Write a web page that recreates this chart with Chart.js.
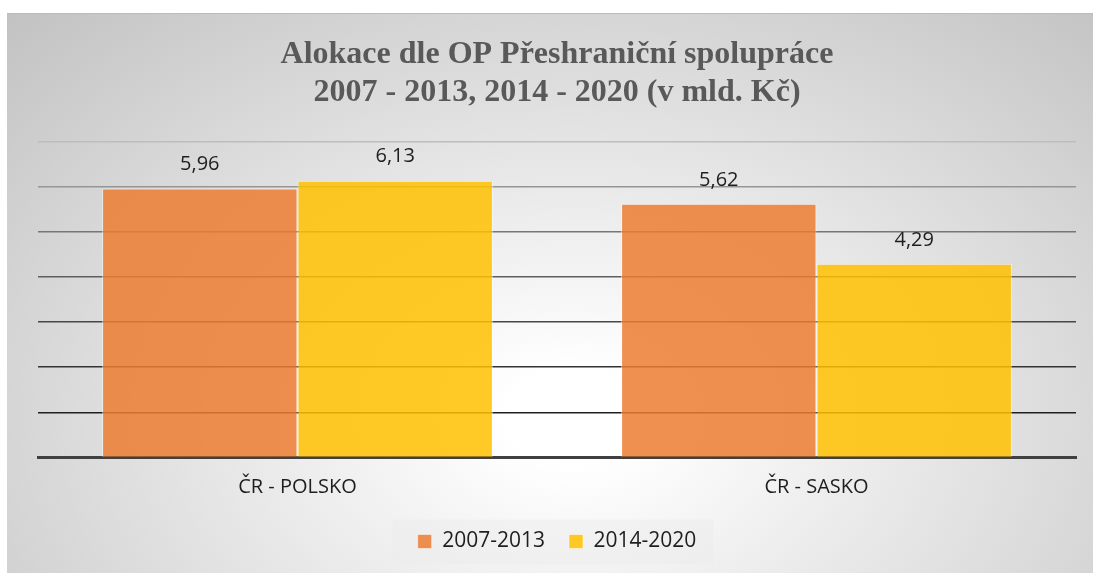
<!DOCTYPE html>
<html>
<head>
<meta charset="utf-8">
<script src="https://cdn.jsdelivr.net/npm/chart.js@4.4.0/dist/chart.umd.min.js"></script>
<style>
  html, body { margin: 0; padding: 0; background: #fff; }
  #frame {
    position: absolute; left: 7px; top: 13px; width: 1086px; height: 560px;
    background: radial-gradient(ellipse farthest-corner at 52% 72%, #ffffff 0%, #ffffff 8%, #c2c2c2 100%);
    border-top: 1px solid #bcbcbc;
  }
  canvas { display: block; }
</style>
</head>
<body>
<div id="frame"><canvas id="allocChart" width="1086" height="560"></canvas></div>
<script>
// Data
const categories = ['ČR - POLSKO', 'ČR - SASKO'];
const period1 = [5.96, 5.62];   // 2007-2013
const period2 = [6.13, 4.29];   // 2014-2020
const seriesNames = ['2007-2013', '2014-2020'];
const yTicks = [0, 1, 2, 3, 4, 5, 6, 7];

// gridline shades, darker towards the bottom
const gridShades = ['#404040', '#202020', '#333333', '#474747', '#5e5e5e', '#767676', '#959595', '#bdbdbd'];

// value labels above bars
const valueLabels = {
    id: 'valueLabels',
    afterDatasetsDraw(chart) {
        const ctx = chart.ctx;
        ctx.save();
        ctx.font = '20px "Open Sans"';
        ctx.fillStyle = '#1e1e1e';
        ctx.textAlign = 'center';
        ctx.textBaseline = 'middle';
        chart.data.datasets.forEach(function(ds, i) {
            chart.getDatasetMeta(i).data.forEach(function(bar, j) {
                const txt = ds.data[j].toFixed(2).replace('.', ',');
                ctx.fillText(txt, bar.x, bar.y - 24);
            });
        });
        ctx.restore();
    }
};

// light panel behind the legend
const legendPanel = {
    id: 'legendPanel',
    beforeDraw(chart) {
        const lg = chart.legend;
        if (!lg || !lg.legendHitBoxes || !lg.legendHitBoxes.length) return;
        const boxes = lg.legendHitBoxes;
        const left = Math.min.apply(null, boxes.map(b => b.left));
        const right = Math.max.apply(null, boxes.map(b => b.left + b.width));
        const mid = boxes[0].top + boxes[0].height / 2;
        const ctx = chart.ctx;
        ctx.save();
        ctx.fillStyle = 'rgba(235,235,235,0.45)';
        ctx.fillRect(left - 25, mid - 22, right - left + 42, 45);
        ctx.restore();
    }
};

new Chart(document.getElementById('allocChart'), {
    type: 'bar',
    data: {
        labels: categories,
        datasets: [
            {
                label: seriesNames[0],
                data: period1,
                backgroundColor: 'rgba(237,125,49,0.85)',
                borderColor: 'rgba(255,255,255,0.5)',
                borderWidth: 1,
                categoryPercentage: 0.753,
                barPercentage: 1.0
            },
            {
                label: seriesNames[1],
                data: period2,
                backgroundColor: 'rgba(255,192,0,0.85)',
                borderColor: 'rgba(255,255,255,0.5)',
                borderWidth: 1,
                categoryPercentage: 0.753,
                barPercentage: 1.0
            }
        ]
    },
    options: {
        responsive: false,
        animation: false,
        layout: {
            padding: { left: 31, right: 17, bottom: 12 }
        },
        plugins: {
            title: {
                display: true,
                text: ['Alokace dle OP Přeshraniční spolupráce', '2007 - 2013, 2014 - 2020 (v mld. Kč)'],
                color: '#595959',
                font: { family: '"Liberation Serif"', size: 32, weight: 'bold', lineHeight: 1.18 },
                padding: { top: 22, bottom: 30 }
            },
            legend: {
                position: 'bottom',
                labels: {
                    color: '#1e1e1e',
                    font: { family: '"Open Sans"', size: 21 },
                    boxWidth: 14,
                    boxHeight: 14,
                    padding: 13.5,
                    generateLabels: function(chart) {
                        const items = Chart.defaults.plugins.legend.labels.generateLabels(chart);
                        items.forEach(function(it, i) {
                            if (i < items.length - 1) it.text = it.text + '\u2002';
                        });
                        return items;
                    }
                }
            },
            tooltip: { enabled: false }
        },
        scales: {
            x: {
                grid: { display: false, drawTicks: false },
                border: { color: '#404040', width: 3 },
                ticks: {
                    color: '#1e1e1e',
                    font: { family: '"Open Sans"', size: 20 },
                    padding: 18
                }
            },
            y: {
                min: 0,
                max: 7,
                afterBuildTicks: function(axis) {
                    axis.ticks = yTicks.map(v => ({ value: v }));
                },
                ticks: { display: false },
                border: { display: false },
                grid: {
                    drawTicks: false,
                    lineWidth: 1.5,
                    color: function(c) { return gridShades[c.tick.value] || '#888'; }
                }
            }
        }
    },
    plugins: [valueLabels, legendPanel]
});
</script>
</body>
</html>
